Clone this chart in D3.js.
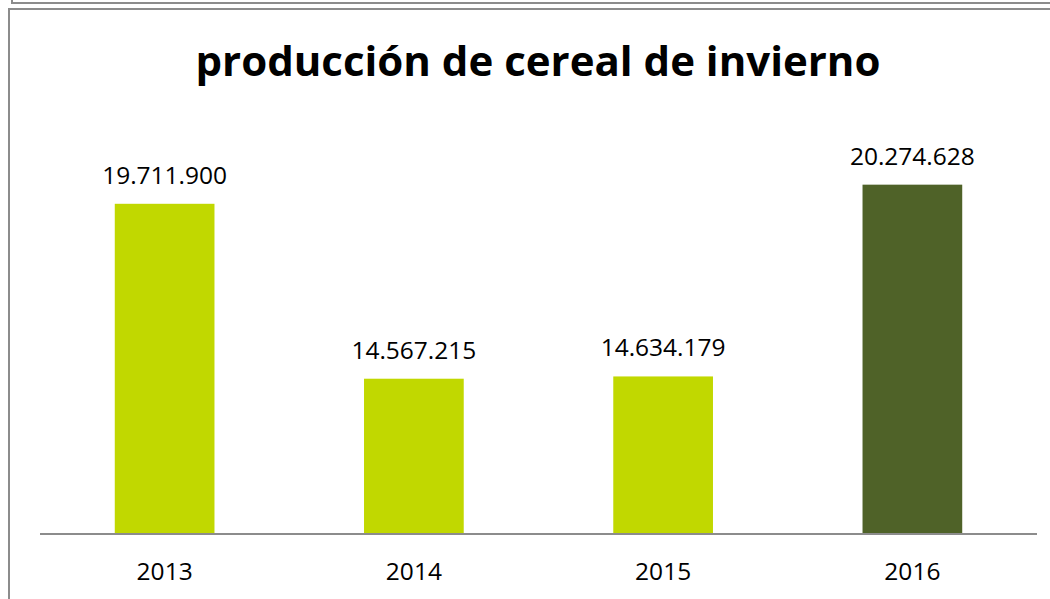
<!DOCTYPE html>
<html>
<head>
<meta charset="utf-8">
<script src="https://cdn.jsdelivr.net/npm/d3@7"></script>
<style>
  body { margin: 0; background: #fff; }
  svg { display: block; font-family: "Open Sans", "Noto Sans", sans-serif; }
</style>
</head>
<body>
<div id="chart"></div>
<script>
var years = ["2013", "2014", "2015", "2016"];
var values = [19711900, 14567215, 14634179, 20274628];
var labels = ["19.711.900", "14.567.215", "14.634.179", "20.274.628"];
var colors = ["#c1d800", "#c1d800", "#c1d800", "#4f6228"];
var title = "producción de cereal de invierno";

var width = 1050,
    height = 599;

var svg = d3.select('#chart').append('svg')
    .attr('width', width)
    .attr('height', height);

// frame above (only its bottom edge shows) and chart frame
svg.append('rect')
    .attr('x', 12).attr('y', -20)
    .attr('width', 1100).attr('height', 23)
    .attr('fill', 'none').attr('stroke', '#8c8c8c').attr('stroke-width', 2);
svg.append('rect')
    .attr('x', 9).attr('y', 9)
    .attr('width', 1100).attr('height', 700)
    .attr('fill', '#fff').attr('stroke', '#8c8c8c').attr('stroke-width', 2);

svg.append('text')
    .attr('x', 538).attr('y', 76)
    .attr('text-anchor', 'middle')
    .style('font-size', '42px')
    .style('font-weight', 'bold')
    .text(title);

var x = d3.scaleBand()
    .domain(years)
    .range([40, 1037])
    .paddingInner(0.6)
    .paddingOuter(0.3);

var y = d3.scaleLinear()
    .domain([10000000, 22000000])
    .range([534, 126]);

var bars = svg.append('g').attr('class', 'bars')
    .selectAll('rect')
    .data(values)
    .enter().append('rect')
    .attr('x', function(d, i) { return x(years[i]); })
    .attr('y', function(d) { return y(d); })
    .attr('width', x.bandwidth())
    .attr('height', function(d) { return y.range()[0] - y(d); })
    .attr('fill', function(d, i) { return colors[i]; });

svg.append('g').attr('class', 'labels')
    .selectAll('text')
    .data(values)
    .enter().append('text')
    .attr('x', function(d, i) { return x(years[i]) + x.bandwidth() / 2; })
    .attr('y', function(d) { return y(d) - 20; })
    .attr('text-anchor', 'middle')
    .style('font-size', '24.5px')
    .text(function(d, i) { return labels[i]; });

var axis = svg.append('g')
    .attr('transform', 'translate(0,534)')
    .call(d3.axisBottom(x).tickSize(0).tickPadding(29));
axis.select('.domain').attr('stroke', '#8c8c8c').attr('stroke-width', 2)
    .attr('d', 'M40,0H1037');
axis.selectAll('text')
    .style('font-size', '24.5px')
    .style('font-family', '"Open Sans", "Noto Sans", sans-serif')
    .attr('fill', '#000');
</script>
</body>
</html>
